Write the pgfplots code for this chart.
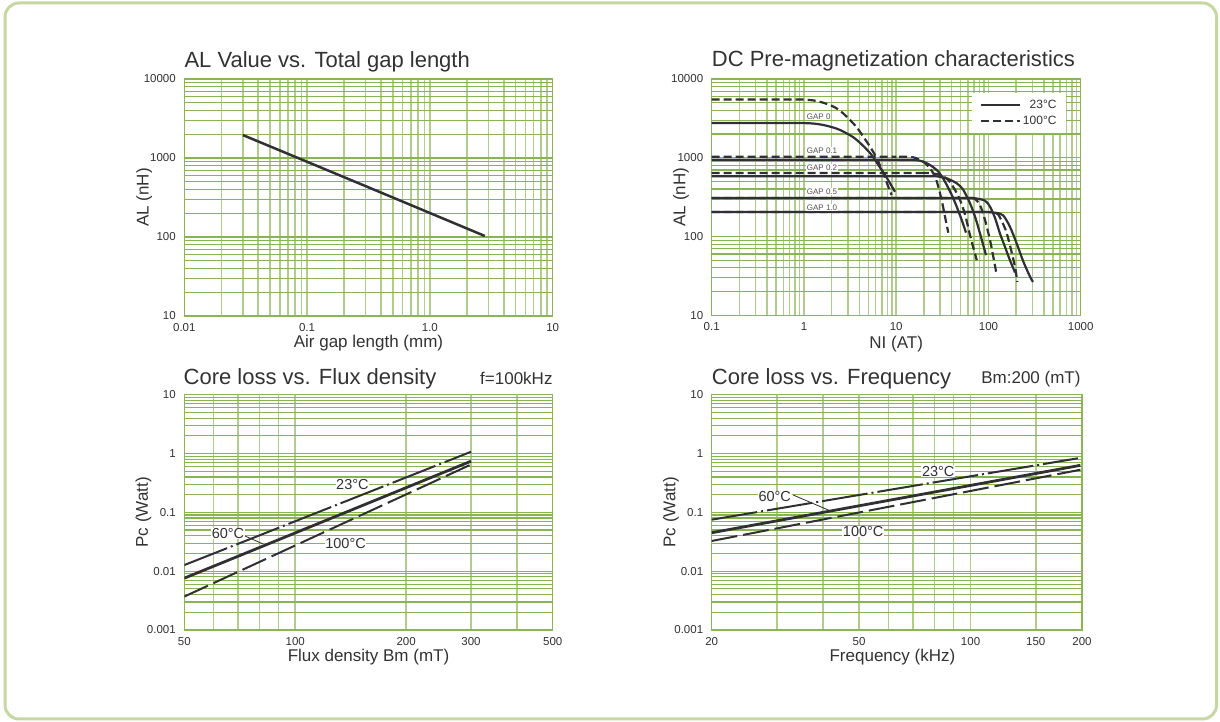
\documentclass[border=0pt]{standalone}
\usepackage{pgfplots}
\pgfplotsset{compat=1.18}
\usepackage{fontspec}
\setmainfont{Liberation Sans}
\definecolor{gridh}{RGB}{135,182,80}
\definecolor{gridv}{RGB}{175,206,138}
\definecolor{frameg}{RGB}{138,182,86}
\definecolor{borderg}{RGB}{196,216,160}
\definecolor{curve}{RGB}{48,48,52}
\definecolor{txt}{RGB}{50,50,50}
\newcommand{\fs}[1]{\fontsize{#1}{#1}\selectfont}
\pgfplotsset{
  every axis grid/.style={gridh, line width=1.2pt},
  every axis x grid/.style={gridv, line width=1.5pt},
  every axis y grid/.style={gridh, line width=1.2pt},
  base/.style={
    scale only axis,
    axis line style={frameg, line width=1.3pt},
    grid=both,
    major tick length=0pt, minor tick length=0pt,
    tick label style={font=\fs{11.5}, text=txt},
    xticklabel style={yshift=-4pt},
    yticklabel style={xshift=-5pt},
    label style={font=\fs{17}, text=txt},
    xlabel style={anchor=center},
    ylabel style={anchor=center},
    every axis plot/.append style={curve, line width=2.3pt},
  },
  alY/.style={ymin=10, ymax=10000, ytick={10,100,1000,10000}, yticklabels={10,100,1000,10000},
    minor ytick={20,30,40,50,60,70,80,90,200,300,400,500,600,700,800,900,2000,3000,4000,5000,6000,7000,8000,9000}},
  pcY/.style={ymin=0.001, ymax=10, ytick={0.001,0.01,0.1,1,10}, yticklabels={0.001,0.01,0.1,1,10},
    minor ytick={0.002,0.003,0.004,0.005,0.006,0.007,0.008,0.009,0.02,0.03,0.04,0.05,0.06,0.07,0.08,0.09,0.2,0.3,0.4,0.5,0.6,0.7,0.8,0.9,2,3,4,5,6,7,8,9}},
}
\tikzset{lab/.style={font=\fs{14.5}, text=txt, fill=white, inner sep=0.6pt},
         gap/.style={anchor=west, font=\fs{8}, text=txt!85, fill=white, inner sep=0.8pt}}
\begin{document}
\begin{tikzpicture}
\useasboundingbox (0pt,0pt) rectangle (1220pt,722pt);
\draw[borderg, line width=3pt, rounded corners=14pt] (5pt,3pt) rectangle (1216.5pt,719pt);

% Chart 1
\begin{loglogaxis}[base, alY, at={(184.3pt,406pt)}, anchor=south west, width=368.4pt, height=237pt,
  xmin=0.01, xmax=10, xtick={0.01,0.1,1,10}, xticklabels={0.01,0.1,1.0,10},
  minor xtick={0.02,0.03,0.04,0.05,0.06,0.07,0.08,0.09,0.2,0.3,0.4,0.5,0.6,0.7,0.8,0.9,2,3,4,5,6,7,8,9},
  xlabel={Air gap length (mm)}, ylabel={AL (nH)},
  xlabel style={at={(axis description cs:0.5,-0.116)}},
  ylabel style={at={(axis description cs:-0.109,0.5)}}]
\addplot[line width=2.5pt] coordinates {(0.03,1950) (0.3,440) (2.8,103)};
\end{loglogaxis}

% Chart 2
\begin{loglogaxis}[base, alY, at={(711.7pt,406.7pt)}, anchor=south west, width=369pt, height=236.3pt,
  xmin=0.1, xmax=1000, xtick={0.1,1,10,100,1000}, xticklabels={0.1,1,10,100,1000},
  minor xtick={0.2,0.3,0.4,0.5,0.6,0.7,0.8,0.9,2,3,4,5,6,7,8,9,20,30,40,50,60,70,80,90,200,300,400,500,600,700,800,900},
  xlabel={NI (AT)}, ylabel={AL (nH)},
  xlabel style={at={(axis description cs:0.5,-0.121)}},
  ylabel style={at={(axis description cs:-0.083,0.5)}},
  legend style={at={(rel axis cs:0.962,0.942)}, anchor=north east, draw=none, fill=white,
    font=\fs{12}, text=txt, inner xsep=8pt, inner ysep=5pt, row sep=2pt},
  legend cell align=right,
  legend image code/.code={\draw[#1] (0pt,0pt) -- (39pt,0pt);},
  every axis plot/.append style={smooth, tension=0.5},
  sol/.style={curve, line width=2.2pt},
  das/.style={curve, line width=2.2pt, dash pattern=on 8pt off 4pt}]
\addplot[sol] coordinates {(0.1,2760) (0.5,2760) (0.8,2760) (1.05,2750) (1.3,2710) (1.62,2606) (2.0,2450) (2.46,2253) (3.43,1820) (4.40,1410) (5.42,1084) (6.40,810) (7.57,604) (8.57,474) (9.7,370)};
\addlegendentry{23°C}
\addplot[das] coordinates {(0.1,5500) (0.5,5500) (0.8,5500) (1.05,5450) (1.37,5260) (1.91,4677) (2.46,3963) (3.15,3020) (3.73,2438) (4.40,1851) (5.20,1383) (5.89,1084) (6.40,891) (7.25,635) (8.20,430) (8.93,337)};
\addlegendentry{100°C}
\addplot[sol] coordinates {(0.1,945) (8,945) (11,945) (14.1,943) (18.1,918) (23.2,810) (28.6,666) (33.8,497) (40.0,337) (45.3,239) (51.3,162) (57.1,112)};
\addplot[das] coordinates {(0.1,1032) (7,1032) (9.5,1032) (11.9,1030) (15.3,1012) (19.7,891) (23.2,735) (26.4,575) (28.6,430) (31.1,291) (33.8,179) (36.7,112)};
\addplot[sol] coordinates {(0.1,582) (15,582) (21,582) (27.5,580) (35.2,548) (45.3,474) (53.4,390) (63.1,264) (71.5,179) (80.9,110) (94,58)};
\addplot[das] coordinates {(0.1,641) (13,641) (18,641) (23.2,638) (29.8,604) (36.7,522) (43.4,390) (49.2,291) (55.9,188) (63.1,104) (74.7,50)};
\addplot[sol] coordinates {(0.1,308) (45,308) (58,308) (71.5,306) (91.8,285) (104,239) (118,171) (133,110) (151,74) (171,50) (194,35)};
\addplot[das] coordinates {(0.1,308) (45,308) (58,308) (70,305) (80.9,251) (91.8,162) (104,90) (112,58) (121,35.8)};
\addplot[sol] coordinates {(0.1,205) (60,205) (80,205) (100,204) (120,200) (144,186) (171,133) (202,82) (239,48) (282,31) (304,26.5)};
\addplot[das] coordinates {(0.1,205) (60,205) (80,205) (100,205) (115,202) (127,192) (142,150) (158,110) (178,64) (194,41) (206,26.5)};
\node[gap] at (axis cs:1.05,3320) {GAP 0};
\node[gap] at (axis cs:1.05,1219) {GAP 0.1};
\node[gap] at (axis cs:1.05,748) {GAP 0.2};
\node[gap] at (axis cs:1.05,371) {GAP 0.5};
\node[gap] at (axis cs:1.05,235) {GAP 1.0};
\end{loglogaxis}

% Chart 3
\begin{loglogaxis}[base, pcY, at={(184.3pt,92pt)}, anchor=south west, width=368.4pt, height=235.3pt,
  xmin=50, xmax=500, xtick={50,100,200,300,500}, xticklabels={50,100,200,300,500},
  minor xtick={60,70,80,90,400},
  xlabel={Flux density Bm (mT)}, ylabel={Pc (Watt)},
  xlabel style={at={(axis description cs:0.5,-0.117)}},
  ylabel style={at={(axis description cs:-0.111,0.5)}}]
\addplot[line width=2pt, dash pattern=on 46pt off 4pt on 2pt off 4pt] coordinates {(50,0.0127) (300,1.07)};
\addplot[line width=2.8pt] coordinates {(50,0.0076) (300,0.74)};
\addplot[line width=2pt, dash pattern=on 26pt off 6pt] coordinates {(50,0.0037) (300,0.65)};
\node[lab] at (axis cs:143,0.303) {23°C};
\node[lab] at (axis cs:65.7,0.0434) {60°C};
\draw[curve, line width=0.8pt] (axis cs:73.1,0.0396) -- (axis cs:81.8,0.029);
\node[lab] at (axis cs:137,0.0293) {100°C};
\end{loglogaxis}

% Chart 4
\begin{loglogaxis}[base, pcY, at={(711.7pt,92pt)}, anchor=south west, width=370.3pt, height=235.3pt,
  xmin=20, xmax=200, xtick={20,50,100,150,200}, xticklabels={20,50,100,150,200},
  minor xtick={30,40,60,70,80,90},
  xlabel={Frequency (kHz)}, ylabel={Pc (Watt)},
  xlabel style={at={(axis description cs:0.488,-0.117)}},
  ylabel style={at={(axis description cs:-0.110,0.5)}}]
\addplot[line width=2pt, dash pattern=on 46pt off 4pt on 2pt off 4pt] coordinates {(20,0.075) (195,0.83)};
\addplot[line width=2.8pt] coordinates {(20,0.045) (198,0.63)};
\addplot[line width=2pt, dash pattern=on 26pt off 6pt] coordinates {(20,0.0326) (198,0.53)};
\node[lab] at (axis cs:81.8,0.491) {23°C};
\node[lab] at (axis cs:29.6,0.1845) {60°C};
\draw[curve, line width=0.8pt] (axis cs:33.2,0.197) -- (axis cs:41.7,0.1067);
\node[lab] at (axis cs:51.3,0.0469) {100°C};
\end{loglogaxis}

\node[anchor=base west, font=\fs{22}, text=txt, inner sep=0pt] at (184.3pt,654.7pt) {AL Value vs. Total gap length};
\node[anchor=base west, font=\fs{22}, text=txt, inner sep=0pt] at (711.7pt,655.3pt) {DC Pre-magnetization characteristics};
\node[anchor=base west, font=\fs{22}, text=txt, inner sep=0pt] at (183.5pt,337pt) {Core loss vs. Flux density};
\node[anchor=base east, font=\fs{17}, text=txt, inner sep=0pt] at (552.7pt,337pt) {f=100kHz};
\node[anchor=base west, font=\fs{22}, text=txt, inner sep=0pt] at (711.7pt,337pt) {Core loss vs. Frequency};
\node[anchor=base east, font=\fs{17}, text=txt, inner sep=0pt] at (1080.7pt,338pt) {Bm:200 (mT)};
\end{tikzpicture}
\end{document}
